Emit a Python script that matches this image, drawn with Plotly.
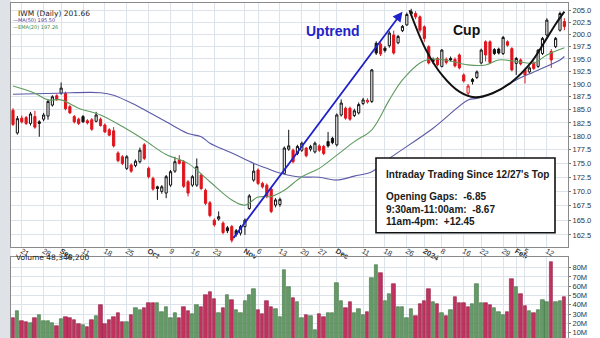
import math
import pandas as pd
import plotly.graph_objects as go

# ---- trading calendar (Aug 17 2023 .. Feb 16 2024) ----
market_holidays = ["2023-09-04", "2023-11-23", "2023-12-25", "2024-01-01", "2024-01-15"]
trade_days = [d for d in pd.bdate_range("2023-08-17", "2024-02-16")
              if d.strftime("%Y-%m-%d") not in market_holidays]
day_pos = list(range(len(trade_days)))

# ---- IWM daily OHLC ----
prior_close = 184.5
opens = [184.9, 180.6, 183.4, 183.5, 182.4, 183.7, 182.7, 183.2, 183.8, 185.9,
         187.7, 188.2, 188.2, 185.6, 183.7, 183.2, 183.7, 182.9, 183.1, 182.8,
         183.2, 182.1, 181.2, 181.0, 176.9, 176.2, 174.1, 174.7, 174.6, 175.3,
         178.4, 174.1, 172.3, 170.8, 170.0, 169.7, 171.1, 173.6, 175.6, 175.3,
         171.7, 171.1, 171.1, 172.9, 170.2, 168.0, 165.0, 165.2, 164.5, 163.7,
         163.9, 163.2, 162.8, 163.9, 167.0, 172.0, 173.8, 171.4, 171.1, 170.4,
         167.6, 167.7, 173.2, 177.6, 177.4, 176.8, 177.4, 177.8, 177.6, 177.1,
         178.2, 178.1, 179.0, 179.6, 178.4, 184.0, 185.3, 185.3, 183.9, 184.4,
         186.2, 186.5, 186.6, 198.2, 198.0, 197.2, 197.7, 199.9, 198.3, 200.8,
         202.0, 204.3, 204.4, 203.7, 201.6, 197.5, 194.5, 195.1, 193.5, 194.9,
         195.1, 194.9, 195.8, 191.8, 188.2, 190.9, 191.3, 194.2, 198.5, 198.5,
         196.9, 197.0, 196.1, 198.5, 197.1, 194.1, 194.8, 192.8, 192.4, 194.2,
         193.5, 196.1, 199.9, 196.5, 197.5, 200.9, 202.7]
highs = [185.3, 183.8, 183.9, 183.8, 184.6, 184.8, 183.0, 184.4, 187.0, 187.8,
         188.0, 190.3, 188.5, 185.9, 184.0, 183.5, 184.0, 183.2, 183.4, 184.6,
         183.5, 182.4, 181.5, 181.7, 177.2, 176.5, 176.5, 175.0, 175.7, 177.9,
         178.7, 174.4, 172.6, 171.0, 171.1, 172.9, 173.8, 176.2, 176.5, 175.6,
         172.0, 172.9, 175.9, 173.2, 170.5, 168.3, 165.3, 166.5, 164.8, 164.0,
         164.2, 163.5, 164.2, 165.3, 169.5, 175.1, 174.1, 171.7, 171.4, 170.7,
         168.8, 168.9, 178.1, 181.2, 177.7, 178.4, 179.0, 178.0, 178.4, 179.0,
         178.5, 178.4, 180.8, 179.9, 184.3, 187.0, 185.6, 185.6, 185.2, 186.4,
         187.3, 187.2, 193.0, 198.6, 198.4, 197.6, 200.7, 200.8, 199.9, 202.0,
         204.6, 205.4, 204.9, 204.0, 201.9, 197.8, 195.3, 195.4, 197.0, 195.3,
         195.5, 195.3, 196.1, 192.1, 190.0, 191.2, 192.7, 197.1, 198.8, 198.8,
         197.2, 197.3, 199.7, 198.8, 197.4, 195.4, 195.1, 193.1, 193.5, 194.5,
         197.0, 199.5, 203.4, 197.0, 199.5, 204.8, 203.4]
lows = [181.9, 180.3, 182.4, 182.1, 182.0, 181.4, 179.9, 182.8, 183.1, 185.6,
        186.7, 187.9, 184.9, 184.2, 182.4, 182.1, 182.5, 182.2, 181.0, 182.6,
        181.8, 180.6, 180.0, 177.9, 175.2, 174.7, 173.8, 173.3, 174.3, 175.0,
        175.6, 172.3, 170.1, 168.5, 169.6, 168.8, 170.8, 173.3, 174.8, 170.6,
        169.1, 170.8, 170.8, 170.2, 167.6, 165.5, 163.9, 164.9, 162.6, 162.8,
        161.2, 162.2, 162.4, 162.5, 166.8, 171.7, 171.1, 170.5, 168.8, 166.2,
        167.2, 167.3, 173.0, 177.3, 175.0, 176.5, 177.1, 176.1, 177.2, 176.8,
        177.1, 176.5, 177.9, 178.5, 178.1, 183.7, 183.1, 182.9, 183.6, 184.1,
        185.9, 186.2, 186.3, 195.8, 195.6, 196.3, 197.3, 195.9, 198.0, 200.5,
        201.8, 203.9, 203.2, 200.4, 198.5, 193.9, 194.0, 193.5, 193.3, 193.9,
        194.5, 193.3, 192.9, 190.3, 187.5, 189.9, 191.0, 193.9, 194.5, 194.0,
        195.8, 195.9, 195.8, 197.5, 192.5, 191.8, 193.7, 190.1, 192.1, 192.8,
        193.2, 195.8, 199.6, 193.2, 197.2, 200.6, 200.9]
closes = [182.2, 183.3, 182.7, 182.4, 184.2, 181.7, 182.4, 184.0, 186.6, 187.5,
          187.0, 189.2, 185.2, 184.4, 182.7, 182.4, 182.7, 182.5, 181.3, 184.0,
          182.0, 180.8, 180.2, 178.2, 175.5, 175.0, 176.2, 173.6, 175.4, 177.4,
          175.9, 172.6, 170.4, 170.5, 170.8, 172.6, 173.5, 175.3, 175.0, 170.9,
          169.7, 172.6, 174.4, 170.5, 167.9, 165.8, 164.2, 165.6, 162.9, 163.2,
          161.6, 162.6, 163.9, 165.0, 169.2, 173.6, 171.4, 170.8, 169.1, 166.5,
          168.5, 168.6, 177.8, 178.2, 175.3, 178.1, 178.7, 176.4, 178.1, 178.7,
          177.4, 176.8, 178.2, 178.8, 184.0, 186.3, 183.4, 183.2, 184.8, 186.0,
          186.9, 186.8, 192.8, 196.2, 196.0, 196.7, 200.3, 196.2, 199.6, 201.7,
          204.2, 204.8, 203.7, 200.9, 199.2, 194.2, 194.9, 193.8, 196.8, 194.3,
          194.8, 193.6, 193.2, 190.6, 189.6, 190.5, 192.4, 196.8, 195.8, 194.3,
          196.1, 196.2, 199.4, 197.8, 192.8, 195.1, 194.0, 191.8, 193.2, 193.1,
          196.8, 199.2, 203.0, 194.8, 199.2, 204.4, 201.66]

# ---- daily volume (millions of shares) ----
volume_m = [26.0, 33.0, 22.6, 21.0, 20.8, 26.0, 29.0, 22.6, 22.6, 20.0,
            17.6, 24.8, 27.0, 26.0, 23.7, 19.0, 18.3, 16.5, 23.7, 28.0,
            39.8, 19.0, 23.7, 27.0, 30.9, 21.9, 21.9, 29.0, 37.0, 34.5,
            36.3, 41.6, 42.3, 41.6, 32.6, 38.0, 26.0, 31.0, 25.5, 38.0,
            33.0, 29.8, 39.8, 38.0, 50.6, 54.0, 46.0, 31.6, 37.0, 50.6,
            45.0, 34.5, 31.0, 44.0, 50.6, 56.7, 34.5, 29.8, 44.5, 38.0,
            35.5, 27.0, 77.5, 59.0, 47.0, 43.4, 26.0, 29.0, 28.0, 13.0,
            29.8, 27.0, 31.0, 31.6, 64.0, 44.0, 36.3, 42.7, 31.6, 35.5,
            29.0, 32.0, 69.0, 83.0, 74.0, 44.0, 51.4, 62.0, 38.0, 38.0,
            26.0, 35.5, 28.0, 41.0, 44.0, 57.0, 42.7, 40.6, 31.0, 28.0,
            34.5, 48.0, 42.3, 41.6, 38.0, 40.6, 62.0, 41.6, 41.6, 39.8,
            36.3, 32.6, 29.0, 32.0, 68.0, 59.0, 52.0, 39.0, 33.4, 31.0,
            34.5, 45.0, 42.7, 86.5, 43.4, 44.5, 48.3462]

# ---- moving averages sampled along the session axis ----
ma50_pos = [0, 10, 20, 23, 28, 30, 35, 40, 43, 45, 50, 55, 58, 60, 65, 70, 74,
            78, 82, 86, 96, 104, 106, 111, 115, 119, 125, 126]
ma50_val = [188.0, 188.2, 188.3, 187.8, 185.9, 185.0, 182.7, 180.5, 179.9, 178.7,
            176.9, 175.0, 174.1, 173.5, 172.6, 172.5, 172.0, 172.7, 173.5, 175.9,
            181.5, 186.9, 187.2, 188.8, 190.8, 192.4, 194.8, 195.5]
ema20_pos = [0, 5, 8, 11, 15, 20, 25, 30, 35, 40, 45, 50, 53, 56, 59, 62, 66, 70,
             74, 78, 82, 86, 89, 93, 95, 98, 104, 108, 111, 115, 119, 122, 126]
ema20_val = [189.6, 188.2, 186.9, 186.9, 185.3, 184.0, 181.8, 179.3, 176.6, 175.0,
             171.7, 168.5, 167.6, 169.0, 169.1, 170.2, 172.6, 174.1, 176.5, 179.0,
             181.2, 186.9, 190.8, 194.2, 194.9, 194.9, 193.8, 193.8, 194.8, 194.5,
             194.2, 195.8, 197.26]

# ---- drawn studies: trend arrow and cup arc (session index, price) ----
trend_from = (50.1, 161.7)
trend_to = (89.0, 204.8)
cup_pos = [90.6, 94.4, 98.2, 102.0, 105.5, 109.6, 114.1, 118.5, 121.9, 124.1, 126.0]
cup_val = [205.1, 196.8, 191.6, 188.5, 187.4, 188.2, 190.5, 194.4, 199.1, 202.3, 204.8]

# ---- axis labels ----
tick_dates = ["2023-08-21", "2023-08-28", "2023-09-01", "2023-09-11", "2023-09-18",
              "2023-09-25", "2023-10-02", "2023-10-09", "2023-10-16", "2023-10-23",
              "2023-11-01", "2023-11-06", "2023-11-13", "2023-11-20", "2023-11-27",
              "2023-12-01", "2023-12-11", "2023-12-18", "2023-12-26", "2024-01-02",
              "2024-01-08", "2024-01-16", "2024-01-22", "2024-01-29", "2024-02-01",
              "2024-02-05", "2024-02-12"]
tick_labels = ["21", "28", "<b>Sep</b>", "11", "18", "25", "<b>Oct</b>", "9", "16", "23",
               "<b>Nov</b>", "6", "13", "20", "27", "<b>Dec</b>", "11", "18", "26",
               "<b>2024</b>", "8", "16", "22", "29", "<b>Feb</b>", "5", "12"]
price_ticks = [162.5, 165.0, 167.5, 170.0, 172.5, 175.0, 177.5, 180.0, 182.5, 185.0,
               187.5, 190.0, 192.5, 195.0, 197.5, 200.0, 202.5, 205.0]
volume_ticks_m = [10, 20, 30, 40, 50, 60, 70, 80]

W, H = 600, 338
RED = "#e0141c"
BLACK = "#111111"
GRID = "#dde3ea"
FONT = "Liberation Sans"

date_index = {d.strftime("%Y-%m-%d"): i for i, d in enumerate(trade_days)}
tick_vals = [date_index[d] for d in tick_dates]

# candle colour: red when the close is below the previous close
prev_closes = [prior_close] + closes[:-1]
is_red = [c < p for c, p in zip(closes, prev_closes)]


def subset(seq, flag):
    return [v for v, r in zip(seq, is_red) if r == flag]


fig = go.Figure()

for flag, col in ((False, BLACK), (True, RED)):
    fig.add_trace(go.Candlestick(
        x=subset(day_pos, flag), open=subset(opens, flag), high=subset(highs, flag),
        low=subset(lows, flag), close=subset(closes, flag),
        increasing=dict(line=dict(color=col, width=1), fillcolor="white"),
        decreasing=dict(line=dict(color=col, width=1), fillcolor=col),
        whiskerwidth=0, showlegend=False, hoverinfo="skip",
        xaxis="x", yaxis="y"))

fig.add_trace(go.Scatter(x=ma50_pos, y=ma50_val, mode="lines",
                         line=dict(color="#5a5aa8", width=1.1, shape="spline"),
                         showlegend=False, hoverinfo="skip"))
fig.add_trace(go.Scatter(x=ema20_pos, y=ema20_val, mode="lines",
                         line=dict(color="#5f9b5f", width=1.1, shape="spline"),
                         showlegend=False, hoverinfo="skip"))
fig.add_trace(go.Scatter(x=cup_pos, y=cup_val, mode="lines",
                         line=dict(color="#111111", width=2, shape="spline"),
                         showlegend=False, hoverinfo="skip"))

vol_colors = ["#c0335e" if r else "#649a66" for r in is_red]
vol_edges = ["#8e1f43" if r else "#3f6f42" for r in is_red]
fig.add_trace(go.Bar(x=day_pos, y=[v * 1e6 for v in volume_m],
                     marker=dict(color=vol_colors, line=dict(color=vol_edges, width=0.6)),
                     width=0.78, showlegend=False, hoverinfo="skip",
                     xaxis="x2", yaxis="y2"))

# pixel layout helpers
plot_left, plot_right = 10.7, 568.0
main_top, main_bottom = 3.0, 247.0
vol_top = 257.0
px_per_day = 4.376
first_center = 13.0


def fx(px):
    return px / W


def fy(py):
    return 1 - py / H


x_range = [(plot_left - first_center) / px_per_day, (plot_right - first_center) / px_per_day]
# log price scale: 205 sits at y=10.7 px, 965 px per natural-log unit
price_top = 205.0 * math.exp((10.7 - main_top) / 965.0)
price_bottom = 205.0 * math.exp((10.7 - main_bottom) / 965.0)
# volume scale: 10M at y=332.7 px, 0.9286 px per million
vol_hi = (10 + (332.7 - vol_top) / 0.9286) * 1e6
vol_lo = (10 + (332.7 - H) / 0.9286) * 1e6

axis_font = dict(family=FONT, size=7.5, color="#333333")

fig.update_layout(
    width=W, height=H, autosize=False,
    margin=dict(l=0, r=0, t=0, b=0),
    paper_bgcolor="#ffffff", plot_bgcolor="#ffffff",
    bargap=0, showlegend=False,
    xaxis=dict(domain=[fx(plot_left), fx(plot_right)], range=x_range, anchor="y",
               tickmode="array", tickvals=tick_vals, ticktext=tick_labels,
               tickfont=axis_font, ticks="", ticklabelstandoff=-4,
               showgrid=True, gridcolor=GRID, gridwidth=1,
               zeroline=False, showline=True, linecolor="#8a8a8a", mirror=True,
               rangeslider=dict(visible=False), fixedrange=True),
    yaxis=dict(domain=[fy(main_bottom), fy(main_top)], type="log",
               range=[math.log10(price_bottom), math.log10(price_top)],
               side="right", tickmode="array", tickvals=price_ticks,
               ticktext=[f"{v:.1f}" for v in price_ticks], tickfont=axis_font,
               ticks="outside", ticklen=2, tickcolor="#777777",
               showgrid=True, gridcolor=GRID, zeroline=False,
               showline=True, linecolor="#8a8a8a", mirror=True, fixedrange=True),
    xaxis2=dict(domain=[fx(plot_left), fx(plot_right)], range=x_range, anchor="y2",
                matches="x", tickmode="array", tickvals=tick_vals, showticklabels=False,
                ticks="", showgrid=True, gridcolor=GRID, zeroline=False,
                showline=True, linecolor="#8a8a8a", mirror=True, fixedrange=True),
    yaxis2=dict(domain=[0, fy(vol_top)], range=[vol_lo, vol_hi], side="right",
                tickmode="array", tickvals=[v * 1e6 for v in volume_ticks_m],
                ticktext=[f"{v}M" for v in volume_ticks_m], tickfont=axis_font,
                ticks="outside", ticklen=2, tickcolor="#777777",
                showgrid=True, gridcolor=GRID, zeroline=False,
                showline=True, linecolor="#8a8a8a", mirror=True, fixedrange=True),
)

shapes = [
    # grey margin strip on the left edge
    dict(type="rect", xref="paper", yref="paper", x0=0, x1=fx(plot_left), y0=0, y1=1,
         fillcolor="#dfe2e7", line=dict(width=0), layer="below"),
    # note box
    dict(type="rect", xref="paper", yref="paper", x0=fx(376), x1=fx(555),
         y0=fy(232.7), y1=fy(158), fillcolor="white", line=dict(color="#111111", width=1.6)),
]

annotations = [
    # trend arrow
    dict(x=trend_to[0], y=math.log10(trend_to[1]), ax=trend_from[0], ay=math.log10(trend_from[1]),
         xref="x", yref="y", axref="x", ayref="y", text="", showarrow=True,
         arrowhead=2, arrowsize=1.1, arrowwidth=1.8, arrowcolor="#1f22c8"),
    dict(x=fx(332.7), y=fy(21), xref="paper", yref="paper", text="<b>Uptrend</b>",
         showarrow=False, font=dict(family=FONT, size=14, color="#1f22c8")),
    dict(x=fx(481.7), y=fy(19.5), xref="paper", yref="paper", text="<b>Cup</b>",
         showarrow=False, font=dict(family=FONT, size=14, color="#111111")),
    # legend
    dict(x=fx(17), y=fy(7.8), xref="paper", yref="paper", xanchor="left",
         text="IWM (Daily) 201.66", showarrow=False, borderpad=0,
         font=dict(family="DejaVu Sans", size=7.5, color="#222222")),
    dict(x=fx(11.5), y=fy(15.6), xref="paper", yref="paper", xanchor="left",
         text="\u2014MA(50) 195.50", showarrow=False, borderpad=0,
         font=dict(family="DejaVu Sans", size=5, color="#3a3a9a")),
    dict(x=fx(11.5), y=fy(22.9), xref="paper", yref="paper", xanchor="left",
         text="\u2014EMA(20) 197.26", showarrow=False, borderpad=0,
         font=dict(family="DejaVu Sans", size=5, color="#3f8a3f")),
    dict(x=fx(15), y=fy(262.5), xref="paper", yref="paper", xanchor="left",
         text="Volume 48,346,200", showarrow=False, borderpad=0,
         font=dict(family="DejaVu Sans", size=7.5, color="#222222")),
]

note_lines = [("Intraday Trading Since 12/27's Top", 174.0),
              ("Opening Gaps:  -6.85", 196.7),
              ("9:30am-11:00am:  -8.67", 209.0),
              ("11am-4pm:  +12.45", 221.3)]
for txt, ypx in note_lines:
    annotations.append(dict(x=fx(384.5), y=fy(ypx), xref="paper", yref="paper",
                            xanchor="left", text=f"<b>{txt}</b>", showarrow=False,
                            borderpad=0,
                            font=dict(family=FONT, size=10, color="#1a1a1a")))

fig.update_layout(shapes=shapes, annotations=annotations)

fig.write_html("out.html")
